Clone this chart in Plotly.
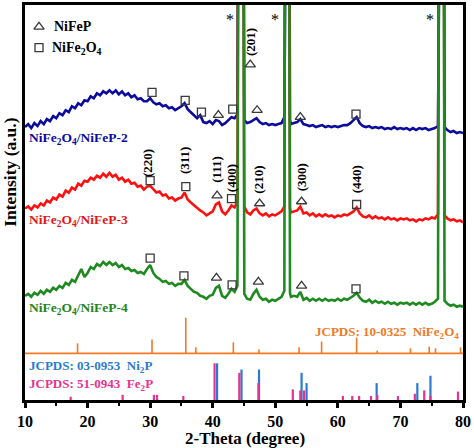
import plotly.graph_objects as go

# ---------------- data ----------------
two_theta = [
    10.0, 10.5, 11.0, 11.5, 12.0, 12.5, 13.0, 13.5, 14.0, 14.5,
    15.0, 15.5, 16.0, 16.5, 17.0, 17.5, 18.0, 18.5, 19.0, 19.5,
    20.0, 20.5, 21.0, 21.5, 22.0, 22.5, 23.0, 23.5, 24.0, 24.5,
    25.0, 25.5, 26.0, 26.5, 27.0, 27.5, 28.0, 28.5, 29.0, 29.5,
    30.0, 30.5, 31.0, 31.5, 32.0, 32.5, 33.0, 33.5, 34.0, 34.5,
    35.0, 35.5, 36.0, 36.5, 37.0, 37.5, 38.0, 38.5, 39.0, 39.5,
    40.0, 40.5, 41.0, 41.5, 42.0, 42.5, 43.0, 43.5,
    43.95, 44.25, 44.75, 45.05,
    45.5, 46.0, 46.5, 47.0, 47.5, 48.0, 48.5, 49.0, 49.5, 50.0, 50.5, 51.0,
    51.45, 51.65, 52.1, 52.35,
    52.5, 53.0, 53.5, 54.0, 54.5, 55.0, 55.5, 56.0, 56.5, 57.0,
    57.5, 58.0, 58.5, 59.0, 59.5, 60.0, 60.5, 61.0, 61.5, 62.0,
    62.5, 63.0, 63.5, 64.0, 64.5, 65.0, 65.5, 66.0, 66.5, 67.0,
    67.5, 68.0, 68.5, 69.0, 69.5, 70.0, 70.5, 71.0, 71.5, 72.0,
    72.5, 73.0, 73.5, 74.0, 74.5, 75.0, 75.5,
    76.0, 76.3, 76.8, 77.05,
    77.5, 78.0, 78.5, 79.0, 79.5, 80.0,
]

# NiFe2O4/NiFeP-2 (stacked intensity, a.u.)
int_nifep2 = [
    275, 278, 274, 279, 276, 281, 278, 283, 281, 286,
    284, 289, 287, 292, 290, 296, 294, 299, 297, 302,
    301, 306, 304, 309, 307, 311, 309, 312, 309, 312,
    308, 311, 307, 309, 305, 307, 303, 304, 301, 301,
    304, 300, 298, 299, 296, 297, 294, 295, 292, 294,
    296, 299, 293, 290, 287, 284, 287, 280, 279, 281,
    278, 282, 281, 277, 279, 282, 285, 284,
    288, 900, 900, 282,
    279, 280, 282, 284, 280, 278, 279, 277, 278, 277, 278, 279,
    285, 900, 900, 282,
    278, 279, 280, 283, 278, 277, 276, 277, 275, 276,
    277, 275, 276, 275, 276, 275, 276, 277, 277, 279,
    282, 285, 279, 276, 275, 276, 274, 275, 274, 275,
    273, 274, 273, 275, 273, 274, 273, 274, 272, 274,
    272, 274, 273, 274, 272, 273, 274,
    276, 900, 900, 275,
    272, 270, 271, 269, 270, 269,
]

# NiFe2O4/NiFeP-3
int_nifep3 = [
    193, 195, 192, 196, 194, 198, 196, 201, 199, 204,
    202, 207, 205, 211, 209, 214, 212, 218, 216, 221,
    220, 224, 222, 226, 224, 228, 225, 229, 225, 227,
    222, 224, 220, 222, 218, 219, 215, 216, 212, 215,
    216, 212, 209, 210, 206, 207, 203, 204, 201, 203,
    204, 209, 202, 199, 196, 194, 191, 189, 186, 188,
    190, 197, 199, 190, 187, 191, 196, 194,
    200, 900, 900, 195,
    189, 187, 191, 193, 188, 186, 188, 185, 187, 186, 188, 190,
    195, 900, 900, 193,
    189, 190, 191, 195, 188, 189, 186, 188, 185, 187,
    185, 187, 185, 186, 184, 186, 185, 187, 186, 188,
    190, 194, 188, 185, 184, 186, 183, 185, 183, 184,
    182, 184, 182, 183, 181, 183, 182, 183, 181, 182,
    180, 182, 181, 183, 182, 184, 183,
    187, 900, 900, 186,
    183, 181, 182, 180, 181, 179,
]

# NiFe2O4/NiFeP-4
int_nifep4 = [
    105, 107, 104, 108, 106, 110, 107, 111, 109, 113,
    111, 115, 113, 118, 116, 121, 119, 125, 132, 124,
    128, 134, 132, 137, 135, 139, 136, 139, 136, 138,
    134, 136, 132, 133, 130, 131, 128, 129, 127, 132,
    136, 128, 124, 122, 119, 120, 117, 118, 115, 117,
    117, 121, 115, 112, 109, 108, 105, 104, 102, 105,
    106, 113, 115, 105, 103, 107, 112, 109,
    115, 900, 900, 107,
    102, 101, 107, 111, 104, 101, 102, 99, 101, 100, 102, 104,
    110, 900, 900, 108,
    104, 105, 104, 109, 101, 103, 100, 102, 100, 102,
    100, 102, 100, 101, 100, 102, 100, 102, 101, 103,
    105, 108, 103, 100, 99, 101, 98, 100, 98, 99,
    97, 99, 97, 98, 96, 98, 97, 98, 96, 98,
    96, 98, 96, 98, 96, 97, 99,
    102, 900, 900, 100,
    97, 95, 96, 94, 95, 94,
]

assert len(two_theta) == len(int_nifep2) == len(int_nifep3) == len(int_nifep4), (
    len(two_theta), len(int_nifep2), len(int_nifep3), len(int_nifep4))

# Reference patterns (relative intensities)
nife2o4_pos = [18.4, 30.3, 35.7, 37.3, 43.3, 47.4, 53.8, 57.4, 63.0, 66.3, 71.6, 74.6, 75.6, 79.6]
nife2o4_int = [28, 39, 100, 17, 31, 11, 17, 33, 44, 8, 14, 19, 14, 17]

ni2p_pos = [40.7, 44.6, 47.4, 54.2, 55.0, 66.2, 72.7, 74.8]
ni2p_int = [100, 83, 83, 74, 46, 46, 46, 66]

fe2p_pos = [17.3, 25.6, 30.6, 31.1, 35.3, 40.3, 44.25, 47.3, 52.8, 54.0, 54.6,
            60.8, 62.3, 63.4, 65.3, 66.3, 69.6, 72.3, 73.8, 74.8, 79.2]
fe2p_int = [9, 14, 14, 14, 11, 100, 74, 46, 29, 26, 26,
            11, 11, 11, 11, 14, 11, 17, 26, 11, 23]

# phase marks (2theta, height) per pattern
sq2_x = [30.3, 35.6, 38.2, 43.2, 62.9]; sq2_y = [310, 302, 290, 293, 288]
tri2_x = [40.9, 46.0, 47.1, 54.0];      tri2_y = [287, 338, 292, 285]
sq3_x = [30.0, 35.7, 43.0, 63.0];       sq3_y = [221, 215, 203, 197]
tri3_x = [40.7, 47.5, 54.2];            tri3_y = [206, 198, 200]
sq4_x = [30.0, 35.4, 43.1, 62.9];       sq4_y = [143, 125, 116, 112]
tri4_x = [40.6, 47.3, 54.2];            tri4_y = [123, 119, 115]

hkl_text = ["(201)", "(220)", "(311)", "(111)", "(400)", "(210)", "(300)", "(440)"]
hkl_x = [46.0, 29.7, 35.6, 40.7, 43.0, 47.4, 54.2, 63.0]
hkl_y = [361, 239, 241, 232, 224, 222, 224, 222]

star_x = [42.7, 50.0, 74.7]

# ---------------- styling ----------------
SERIF = "Liberation Serif, Times New Roman, serif"
C_BLUE = "#0c0c9c"
C_RED = "#ff1010"
C_GREEN = "#1f8a1f"
C_ORANGE = "#ee7a26"
C_NI2P = "#2a7bd0"
C_FE2P = "#e5338f"
MARK = "#3a3a3a"

fig = go.Figure()


def sticks(pos, inten, base, scale):
    xs, ys = [], []
    for p, v in zip(pos, inten):
        xs += [p, p, None]
        ys += [base, base + v * scale, None]
    return xs, ys


# orange reference (NiFe2O4)
fig.add_trace(go.Scatter(x=[10, 80], y=[47, 47], mode="lines",
                         line=dict(color=C_ORANGE, width=1.6), hoverinfo="skip"))
xs, ys = sticks(nife2o4_pos, nife2o4_int, 47, 0.36)
fig.add_trace(go.Scatter(x=xs, y=ys, mode="lines", line=dict(color=C_ORANGE, width=1.6)))
xs, ys = sticks(ni2p_pos, ni2p_int, 0, 0.37)
fig.add_trace(go.Scatter(x=xs, y=ys, mode="lines", line=dict(color=C_NI2P, width=2.2)))
xs, ys = sticks(fe2p_pos, fe2p_int, 0, 0.37)
fig.add_trace(go.Scatter(x=xs, y=ys, mode="lines", line=dict(color=C_FE2P, width=2.2)))

# XRD curves
for yv, col in [(int_nifep2, C_BLUE), (int_nifep3, C_RED), (int_nifep4, C_GREEN)]:
    fig.add_trace(go.Scatter(x=two_theta, y=yv, mode="lines",
                             line=dict(color=col, width=2.6)))

# phase marks
sq_x = sq2_x + sq3_x + sq4_x + [12.24]
sq_y = sq2_y + sq3_y + sq4_y + [355]
tri_x = tri2_x + tri3_x + tri4_x + [12.24]
tri_y = tri2_y + tri3_y + tri4_y + [376]
fig.add_trace(go.Scatter(x=sq_x, y=sq_y, mode="markers", cliponaxis=False,
                         marker=dict(symbol="square-open", size=8, color=MARK,
                                     line=dict(width=1.3, color=MARK))))
fig.add_trace(go.Scatter(x=tri_x, y=tri_y, mode="markers", cliponaxis=False,
                         marker=dict(symbol="triangle-up-open", size=9, color=MARK,
                                     line=dict(width=1.3, color=MARK))))

ann = []


def txt(x, y, s, size=14, color="black", xanchor="left", angle=0, xref="x", yref="y"):
    ann.append(dict(x=x, y=y, xref=xref, yref=yref, text=s, showarrow=False,
                    xanchor=xanchor, yanchor="middle", textangle=angle,
                    font=dict(family=SERIF, size=size, color=color)))


# legend
txt(14.3, 376, "<b>NiFeP</b>", 14)
txt(14.0, 354, "<b>NiFe<sub>2</sub>O<sub>4</sub></b>", 14)

# curve labels
txt(10.3, 263, "<b>NiFe<sub>2</sub>O<sub>4</sub>/NiFeP-2</b>", 13.5, C_BLUE)
txt(10.3, 181, "<b>NiFe<sub>2</sub>O<sub>4</sub>/NiFeP-3</b>", 13.5, "#e21818")
txt(10.3, 92, "<b>NiFe<sub>2</sub>O<sub>4</sub>/NiFeP-4</b>", 13.5, "#228422")

# JCPDS labels
txt(79.7, 68, "<b>JCPDS: 10-0325\u00a0\u00a0NiFe<sub>2</sub>O<sub>4</sub></b>", 13, C_ORANGE, xanchor="right")
txt(10.3, 34, "<b>JCPDS: 03-0953\u00a0\u00a0Ni<sub>2</sub>P</b>", 13, C_NI2P)
txt(10.3, 16, "<b>JCPDS: 51-0943\u00a0\u00a0Fe<sub>2</sub>P</b>", 13, C_FE2P)

# hkl labels
for s, x, y in zip(hkl_text, hkl_x, hkl_y):
    txt(x, y, "<b>" + s + "</b>", 13, "black", xanchor="center", angle=-90)

# asterisks
for x in star_x:
    txt(x, 383, "*", 16, "black", xanchor="center")

# axis titles
txt(-0.034, 230, "<b>Intensity (a.u.)</b>", 17.5, "black", xanchor="center", angle=-90, xref="paper")
txt(45.2, -0.098, "<b>2-Theta (degree)</b>", 17, "black", xanchor="center", yref="paper")

fig.update_layout(
    width=474, height=448,
    margin=dict(l=25, r=11, t=2, b=48),
    paper_bgcolor="white", plot_bgcolor="white",
    showlegend=False,
    annotations=ann,
    xaxis=dict(range=[10, 80], tick0=10, dtick=10, ticks="outside", ticklen=5,
               tickwidth=2.5, tickcolor="black", showline=True, linewidth=2.5,
               linecolor="black", mirror=True, showgrid=False, zeroline=False,
               ticklabelstandoff=0,
               tickfont=dict(family=SERIF, size=16, color="black", weight="bold"),
               minor=dict(dtick=5, tick0=10, ticks="outside", ticklen=3, tickwidth=2,
                          tickcolor="black", showgrid=False)),
    yaxis=dict(range=[0, 398], showticklabels=False, ticks="", showline=True,
               linewidth=2.5, linecolor="black", mirror=True, showgrid=False,
               zeroline=False),
)

fig.write_html("out.html",
               config={"displayModeBar": False},
               post_script="document.body.style.margin='0';document.body.style.padding='0';")
